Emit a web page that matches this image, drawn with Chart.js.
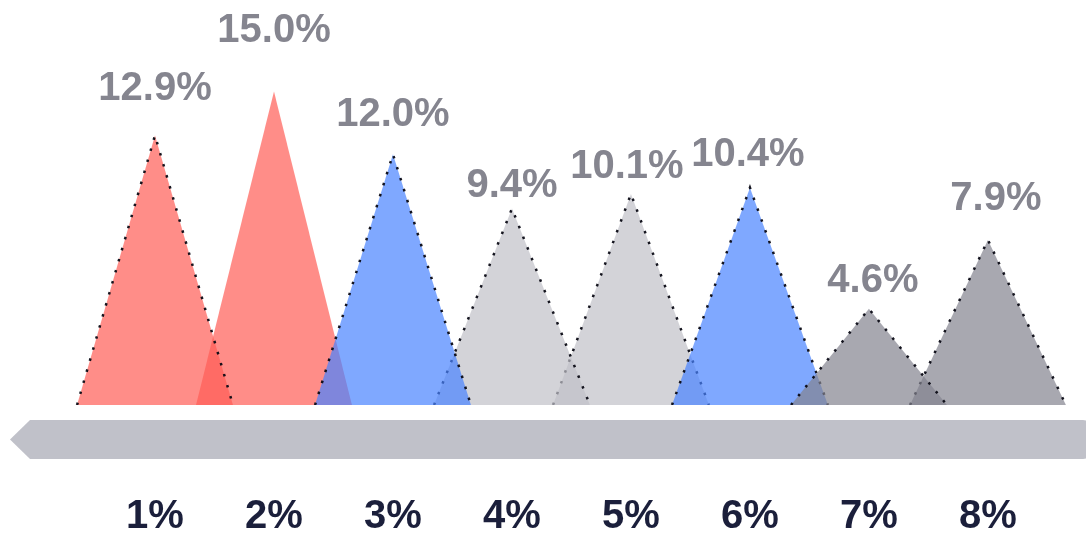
<!DOCTYPE html>
<html>
<head>
<meta charset="utf-8">
<script src="https://cdn.jsdelivr.net/npm/chart.js@4/dist/chart.umd.min.js"></script>
<style>
  html, body { margin: 0; padding: 0; background: #ffffff; }
  #wrap { width: 1086px; height: 536px; position: relative; }
</style>
</head>
<body>
<div id="wrap"><canvas id="c"></canvas></div>
<script>
// Categories along the axis and the share for each one
const categories = ['1%', '2%', '3%', '4%', '5%', '6%', '7%', '8%'];
const shares = [12.9, 15.0, 12.0, 9.4, 10.1, 10.4, 4.6, 7.9];
// Colour group per peak: r = red, b = blue, l = light grey, d = dark grey
const groups = ['r', 'r', 'b', 'l', 'l', 'b', 'd', 'd'];

// Styling
const palette = {
  r: { fill: 'rgba(255,92,86,0.7)', order: 2 },
  b: { fill: 'rgba(73,131,255,0.7)', order: 1 },
  l: { fill: 'rgba(192,192,199,0.7)', order: 3 },
  d: { fill: 'rgba(131,131,142,0.7)', order: 0 }
};
const halfBase = 0.655;              // half width of each peak, in category units
const labelGap = [35, 50, 28, 12, 16, 22, 17, 30];   // px between peak tip and label baseline
const labelNudge = [0, 0, 0, 0, -4, -2, 4, 8];       // px horizontal nudge of labels
const FONT = '"Liberation Sans", Arial, sans-serif';

const datasets = shares.map((v, i) => {
  const c = i + 1;
  const st = palette[groups[i]];
  return {
    label: categories[i],
    data: [{ x: c - halfBase, y: 0 }, { x: c, y: v }, { x: c + halfBase, y: 0 }],
    backgroundColor: st.fill,
    borderColor: i === 1 ? 'rgba(0,0,0,0)' : 'rgba(10,10,20,0.95)',
    borderWidth: 2.5,
    borderDash: [2.5, 9],
    fill: 'origin',
    tension: 0,
    pointRadius: 0,
    order: st.order
  };
});

// Grey left-pointing band under the peaks
const bandPlugin = {
  id: 'band',
  beforeDraw(chart) {
    const ctx = chart.ctx;
    const top = chart.chartArea.bottom + 15;
    const h = 39;
    const right = chart.width + 4;
    const r = 7;
    ctx.save();
    ctx.fillStyle = '#c0c1c9';
    ctx.beginPath();
    ctx.moveTo(10, top + h / 2);
    ctx.lineTo(30, top);
    ctx.lineTo(right - r, top);
    ctx.quadraticCurveTo(right, top, right, top + r);
    ctx.lineTo(right, top + h - r);
    ctx.quadraticCurveTo(right, top + h, right - r, top + h);
    ctx.lineTo(30, top + h);
    ctx.closePath();
    ctx.fill();
    ctx.restore();
  }
};

// Value labels above each peak
const valueLabels = {
  id: 'valueLabels',
  afterDatasetsDraw(chart) {
    const ctx = chart.ctx;
    const xs = chart.scales.x, ys = chart.scales.y;
    ctx.save();
    ctx.font = 'bold 40px ' + FONT;
    ctx.fillStyle = '#85858f';
    ctx.textAlign = 'center';
    ctx.textBaseline = 'alphabetic';
    shares.forEach((v, i) => {
      const px = xs.getPixelForValue(i + 1) + labelNudge[i];
      const py = ys.getPixelForValue(v) - labelGap[i];
      ctx.fillText(v.toFixed(1) + '%', px, py);
    });
    ctx.restore();
  }
};

new Chart(document.getElementById('c'), {
  type: 'line',
  data: { datasets },
  plugins: [bandPlugin, valueLabels],
  options: {
    responsive: true,
    maintainAspectRatio: false,
    animation: false,
    events: [],
    layout: { padding: 0 },
    plugins: { legend: { display: false }, tooltip: { enabled: false } },
    scales: {
      x: {
        type: 'linear',
        min: -0.3025,
        max: 8.824,
        grid: { display: false, drawTicks: false },
        border: { display: false },
        afterBuildTicks(scale) {
          scale.ticks = categories.map((_, i) => ({ value: i + 1 }));
        },
        afterFit(scale) {
          scale.height = 131;
          scale.paddingLeft = 0;
          scale.paddingRight = 0;
        },
        ticks: {
          padding: 88,
          autoSkip: false,
          maxRotation: 0,
          color: '#1b1f3b',
          font: { family: FONT, size: 40, weight: 'bold' },
          callback(value) { return categories[Math.round(value) - 1] || ''; }
        }
      },
      y: {
        display: false,
        min: 0,
        max: 19.38
      }
    }
  }
});
</script>
</body>
</html>
